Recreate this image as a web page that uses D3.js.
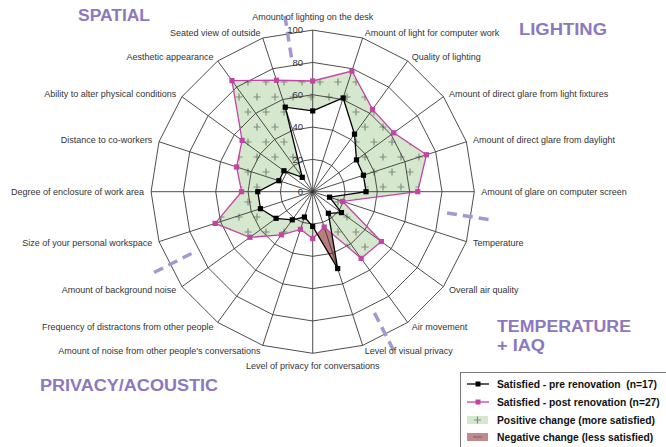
<!DOCTYPE html>
<html><head><meta charset="utf-8">
<script src="https://cdn.jsdelivr.net/npm/d3@7/dist/d3.min.js"></script>
<style>
html,body{margin:0;padding:0;background:#fff;}
svg{display:block;font-family:"Liberation Sans",Arial,sans-serif;}
</style></head>
<body>
<svg id="chart" width="666" height="447"></svg>
<script>
const categories = [
 "Amount of lighting on the desk","Amount of light for computer work","Quality of lighting",
 "Amount of direct glare from light fixtures","Amount of direct glare from daylight",
 "Amount of glare on computer screen","Temperature","Overall air quality","Air movement",
 "Level of visual privacy","Level of privacy for conversations",
 "Amount of noise from other people's conversations","Frequency of distractons from other people",
 "Amount of background noise","Size of your personal workspace","Degree of enclosure of work area",
 "Distance to co-workers","Ability to alter physical conditions","Aesthetic appearance","Seated view of outside"
];
const preValues  = [50, 61, 44, 33.5, 33, 33, 11, 22, 16.5, 50, 21.5, 16.5, 21.5, 28, 34, 34, 22, 22, 11, 55];
const postValues = [68.5, 78.5, 63, 62, 74, 65, 19.5, 52.5, 51, 23, 29, 24.5, 33, 48, 63.5, 44, 49.5, 54, 85, 72.5];
const tickValues = [0, 20, 40, 60, 80, 100];
const groupTitles = ["SPATIAL", "LIGHTING", "TEMPERATURE", "+ IAQ", "PRIVACY/ACOUSTIC"];
const separatorAngles = [-9, 99, 153, 243];
const legendLabels = ["Satisfied - pre renovation  (n=17)", "Satisfied - post renovation (n=27)",
  "Positive change (more satisfied)", "Negative change (less satisfied)"];

const cx = 312.7, cy = 191.7, R = 161.6;
const svg = d3.select("#chart");
const r = d3.scaleLinear().domain([0, 100]).range([0, R]);
const ang = d3.scaleLinear().domain([0, categories.length]).range([0, 2 * Math.PI]);
const pt = (i, v) => [cx + r(v) * Math.sin(ang(i)), cy - r(v) * Math.cos(ang(i))];

const defs = svg.append("defs");
const pat = defs.append("pattern").attr("id", "plus").attr("patternUnits", "userSpaceOnUse")
  .attr("width", 18).attr("height", 30);
pat.append("rect").attr("width", 18).attr("height", 30).attr("fill", "#d5e7cd");
[[5, 7], [14, 22]].forEach(([x, y]) => {
  pat.append("path").attr("d", `M${x - 3.5},${y}H${x + 3.5}M${x},${y - 3.5}V${y + 3.5}`)
    .attr("stroke", "#7f8e7c").attr("stroke-width", 1.2);
});

const poly = vals => vals.map((v, i) => pt(i, v));
const lineGen = d3.line().curve(d3.curveLinearClosed);

const mPos = defs.append("mask").attr("id", "mPos");
mPos.append("rect").attr("width", 666).attr("height", 447).attr("fill", "black");
mPos.append("path").attr("d", lineGen(poly(postValues))).attr("fill", "white");
mPos.append("path").attr("d", lineGen(poly(preValues))).attr("fill", "black");
const mNeg = defs.append("mask").attr("id", "mNeg");
mNeg.append("rect").attr("width", 666).attr("height", 447).attr("fill", "black");
mNeg.append("path").attr("d", lineGen(poly(preValues))).attr("fill", "white");
mNeg.append("path").attr("d", lineGen(poly(postValues))).attr("fill", "black");

svg.append("rect").attr("width", 666).attr("height", 447).attr("fill", "url(#plus)").attr("mask", "url(#mPos)");
svg.append("rect").attr("width", 666).attr("height", 447).attr("fill", "#b77c7c").attr("mask", "url(#mNeg)");

// grid
const grid = svg.append("g").attr("fill", "none").attr("stroke", "#3a3a3a").attr("stroke-width", 0.9);
tickValues.slice(1).forEach(t => {
  grid.append("path").attr("d", lineGen(categories.map((c, i) => pt(i, t))));
});
categories.forEach((c, i) => {
  const [x, y] = pt(i, 100);
  grid.append("line").attr("x1", cx).attr("y1", cy).attr("x2", x).attr("y2", y);
});

// separators
separatorAngles.forEach(a => {
  const rad = a * Math.PI / 180;
  svg.append("line")
    .attr("x1", cx + 136 * Math.sin(rad)).attr("y1", cy - 136 * Math.cos(rad))
    .attr("x2", cx + 179 * Math.sin(rad)).attr("y2", cy - 179 * Math.cos(rad))
    .attr("stroke", "#a497d2").attr("stroke-width", 3.5).attr("stroke-dasharray", "10,6");
});

// series
function series(vals, color) {
  svg.append("path").attr("d", lineGen(poly(vals))).attr("fill", "none")
    .attr("stroke", color).attr("stroke-width", 1.3);
  svg.append("g").selectAll("rect").data(poly(vals)).join("rect")
    .attr("x", d => d[0] - 2.6).attr("y", d => d[1] - 2.6).attr("width", 5.2).attr("height", 5.2)
    .attr("fill", color);
}
series(postValues, "#c245a6");
series(preValues, "#000");

// tick labels
svg.append("g").selectAll("text").data(tickValues).join("text")
  .attr("x", 303).attr("y", d => cy - r(d)).attr("dy", "0.35em").attr("text-anchor", "end")
  .attr("font-size", 9.5).attr("fill", "#333").text(d => d);

// axis labels
svg.append("g").selectAll("text").data(categories).join("text")
  .each(function (c, i) {
    const a = ang(i), s = Math.sin(a), co = Math.cos(a);
    const [ex, ey] = pt(i, 100);
    let x = ex + 7 * s, y = ey - 5.5 * co, anchor = s > 0.01 ? "start" : (s < -0.01 ? "end" : "middle");
    if (anchor === "middle") { x = ex; y = ey + (co > 0 ? -13 : 13); }
    d3.select(this).attr("x", x).attr("y", y).attr("dy", "0.35em").attr("text-anchor", anchor);
  })
  .attr("font-size", 9).attr("fill", "#333").text(d => d);

// group titles
const titlePos = [[78, 15, 72], [519, 29, 88], [497, 326, 134], [497, 345, 48], [40, 385, 178]];
svg.append("g").selectAll("text").data(groupTitles).join("text")
  .attr("x", (d, i) => titlePos[i][0]).attr("y", (d, i) => titlePos[i][1]).attr("dy", "0.36em")
  .attr("textLength", (d, i) => titlePos[i][2]).attr("lengthAdjust", "spacingAndGlyphs")
  .attr("font-size", 16).attr("font-weight", "bold").attr("fill", "#8c78bf").text(d => d);

// legend
const lg = svg.append("g");
lg.append("rect").attr("x", 460.5).attr("y", 372.5).attr("width", 220).attr("height", 80)
  .attr("fill", "#fff").attr("stroke", "#777");
const rowsY = [384, 402, 420, 437];
[["#000"], ["#c245a6"]].forEach(([c], i) => {
  lg.append("line").attr("x1", 467).attr("x2", 489).attr("y1", rowsY[i]).attr("y2", rowsY[i]).attr("stroke", c).attr("stroke-width", 1.3);
  lg.append("rect").attr("x", 475.5).attr("y", rowsY[i] - 2.5).attr("width", 5).attr("height", 5).attr("fill", c);
});
lg.append("rect").attr("x", 467).attr("y", rowsY[2] - 4).attr("width", 21).attr("height", 8).attr("fill", "#d5e7cd");
lg.append("path").attr("d", `M474,${rowsY[2]}H481M477.5,${rowsY[2] - 3.5}V${rowsY[2] + 3.5}`).attr("stroke", "#7f8e7c").attr("stroke-width", 1.1);
lg.append("rect").attr("x", 467).attr("y", rowsY[3] - 4).attr("width", 21).attr("height", 8).attr("fill", "#c08a8a");
lg.append("path").attr("d", `M473,${rowsY[3]}H482`).attr("stroke", "#8a5a5a").attr("stroke-width", 1.1);
lg.selectAll("text.l").data(legendLabels).join("text").attr("class", "l")
  .attr("x", 497).attr("y", (d, i) => rowsY[i]).attr("dy", "0.35em")
  .style("white-space", "pre")
  .attr("font-size", 10.3).attr("font-weight", "bold").attr("fill", "#111").text(d => d);
</script>
</body></html>
